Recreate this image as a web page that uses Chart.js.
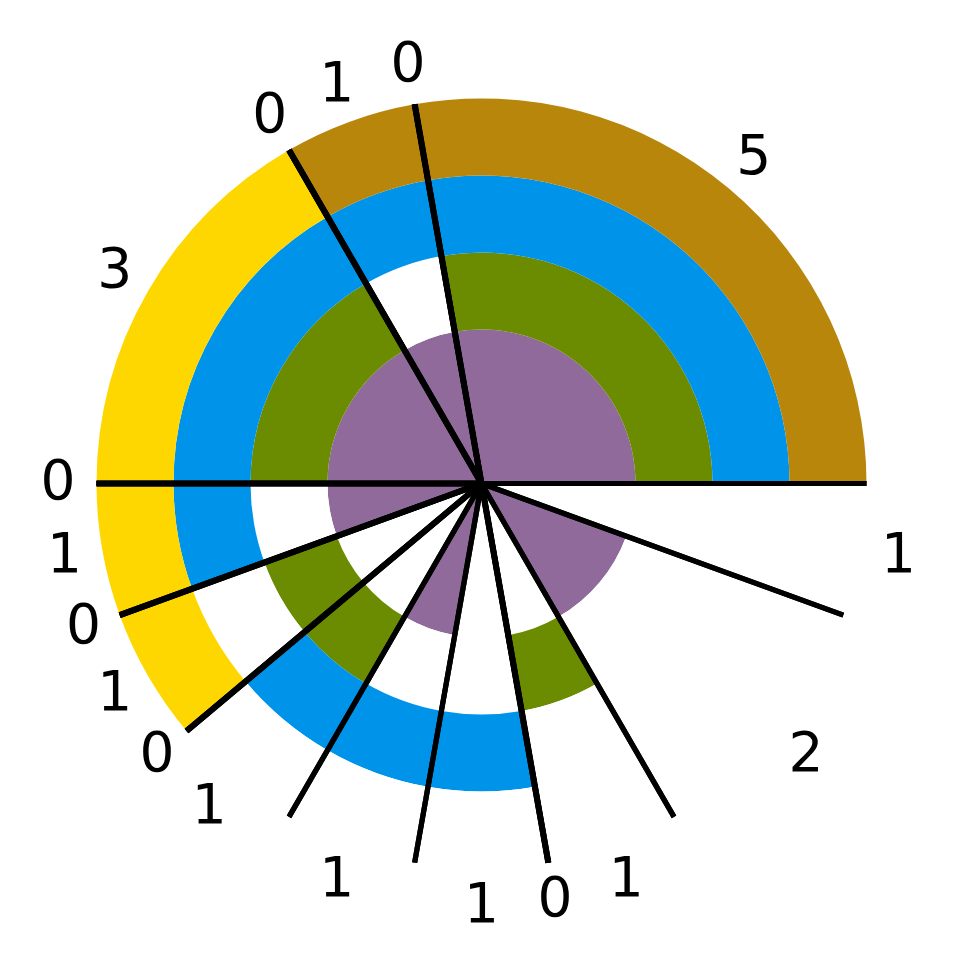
<!DOCTYPE html>
<html>
<head>
<meta charset="utf-8">
<script src="https://cdn.jsdelivr.net/npm/chart.js@4"></script>
<style>
html,body{margin:0;padding:0;background:#ffffff;}
canvas{display:block;}
</style>
</head>
<body>
<canvas id="c" width="955" height="974"></canvas>
<script>
// Slices listed clockwise starting at 3 o'clock
const sliceValues = [1, 2, 1, 0, 1, 1, 1, 0, 1, 0, 1, 0, 3, 0, 1, 0, 5];
const sliceLabels = sliceValues.map(v => String(v));

const W = '#ffffff';
const BR = '#b8860b';
const YE = '#ffd700';
const BL = '#0093ea';
const GR = '#6b8b00';
const PU = '#8f6a9a';

// ring colours per slice (outermost first)
const outerColors  = [W, W, W, W, W, W, W, W, YE, YE, YE, YE, YE, BR, BR, BR, BR];
const blueColors   = [W, W, W, W, BL, BL, BL, BL, W, W, BL, BL, BL, BL, BL, BL, BL];
const greenColors  = [W, W, GR, GR, W, W, GR, GR, GR, GR, W, W, GR, GR, W, W, GR];
const purpleColors = [W, PU, W, W, W, PU, W, W, W, W, PU, PU, PU, PU, PU, PU, PU];

const ringWeights = [1, 1, 1, 2];

const spokes = {
  id: 'spokes',
  afterDatasetsDraw(chart) {
    const ctx = chart.ctx;
    const meta = chart.getDatasetMeta(0);
    ctx.save();
    ctx.strokeStyle = '#000000';
    ctx.lineCap = 'butt';
    meta.data.forEach((el, i) => {
      const p = el.getProps(['x', 'y', 'startAngle', 'endAngle', 'outerRadius'], true);
      const zero = sliceValues[i] === 0;
      ctx.lineWidth = zero ? 6 : 5.2;
      [p.startAngle, p.endAngle].forEach(a => {
        ctx.beginPath();
        ctx.moveTo(p.x, p.y);
        ctx.lineTo(p.x + p.outerRadius * Math.cos(a), p.y + p.outerRadius * Math.sin(a));
        ctx.stroke();
      });
    });
    // labels
    ctx.fillStyle = '#000000';
    ctx.font = '55px "DejaVu Sans"';
    ctx.textAlign = 'center';
    ctx.textBaseline = 'alphabetic';
    meta.data.forEach((el, i) => {
      const p = el.getProps(['x', 'y', 'startAngle', 'endAngle', 'outerRadius'], true);
      const mid = (p.startAngle + p.endAngle) / 2;
      const r = p.outerRadius * 1.1;
      const lx = p.x + r * Math.cos(mid);
      const ly = p.y + r * Math.sin(mid);
      ctx.fillText(sliceLabels[i], lx, ly + 15);
    });
    ctx.restore();
  }
};

const ringColorSets = [outerColors, blueColors, greenColors, purpleColors];

new Chart(document.getElementById('c'), {
  type: 'doughnut',
  data: {
    labels: sliceLabels,
    datasets: ringColorSets.map((cols, k) => ({
      data: sliceValues,
      backgroundColor: cols,
      borderWidth: 0,
      borderColor: cols,
      weight: ringWeights[k],
      hoverOffset: 0,
      offset: 0
    }))
  },
  options: {
    responsive: false,
    animation: false,
    events: [],
    cutout: 0,
    radius: 385,
    rotation: 90,
    layout: { padding: { left: 50, right: 42, top: 50, bottom: 57 } },
    plugins: {
      legend: { display: false },
      tooltip: { enabled: false }
    }
  },
  plugins: [spokes]
});
</script>
</body>
</html>
